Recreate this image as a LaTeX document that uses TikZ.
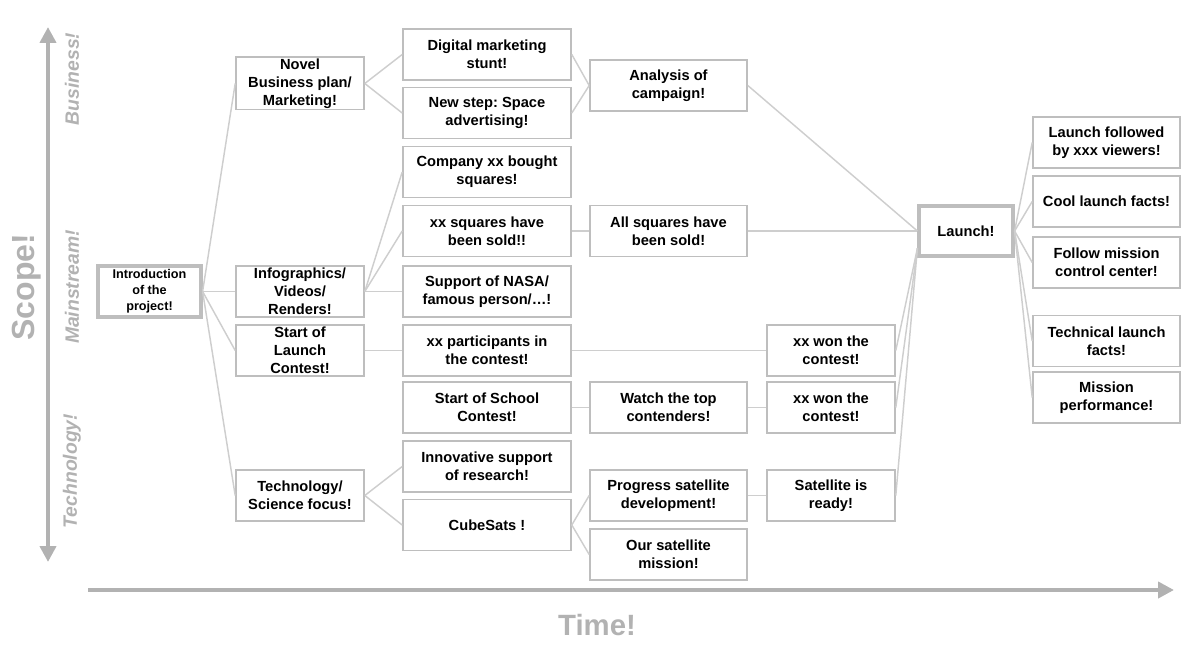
\documentclass[tikz,border=0pt]{standalone}
\usepackage{fontspec}
\setmainfont{Liberation Sans}
\usetikzlibrary{arrows.meta}
\frenchspacing

\definecolor{boxgray}{RGB}{190,190,190}
\definecolor{linkgray}{RGB}{206,206,206}
\definecolor{axisgray}{RGB}{178,178,178}

\tikzset{every picture/.style={line width=0.75pt}}
\tikzset{
  card/.style={draw=boxgray, line width=1.2pt, fill=white, align=center, inner sep=1pt,
    font=\bfseries\fontsize{11}{13.5}\selectfont},
  keycard/.style={card, line width=2.4pt},
  colA/.style={card, minimum width=96pt, minimum height=38.25pt},
  colB/.style={card, minimum width=126pt, minimum height=38pt},
  colC/.style={card, minimum width=117.75pt, minimum height=38pt},
  colD/.style={card, minimum width=96pt, minimum height=38pt},
  colE/.style={card, minimum width=110.25pt, minimum height=38pt},
  link/.style={draw=linkgray, line width=1.1pt},
  axis/.style={draw=axisgray, line width=3pt},
  axistip/.style={-{Triangle[length=12pt,width=12pt]}},
  scopelbl/.style={text=axisgray, rotate=90, font=\bfseries\itshape\fontsize{14.5}{16}\selectfont},
  biglbl/.style={text=axisgray, font=\bfseries\fontsize{22}{24}\selectfont},
}

\begin{document}
\begin{tikzpicture}[x=0.75pt,y=0.75pt,yscale=-1,xscale=1]
\useasboundingbox (0,0) rectangle (1200,649);

%Axes
\coordinate (scopeLo) at (48,562);
\coordinate (scopeHi) at (48,27);
\coordinate (timeLo) at (88,590);
\coordinate (timeHi) at (1174,590);
\draw [axis, {Triangle[length=12pt,width=12pt]}-{Triangle[length=12pt,width=12pt]}] (scopeLo) -- (scopeHi) ;
\draw [axis, axistip] (timeLo) -- (timeHi) ;

% Axis labels
\node [biglbl, rotate=90, font=\bfseries\fontsize{24}{26}\selectfont] (lScope) at (27,287) {Scope!};
\node [biglbl] (lTime) at (597,625) {Time!};
\node [scopelbl] (lBusiness) at (72,79) {Business!};
\node [scopelbl] (lMainstream) at (72,287) {Mainstream!};
\node [scopelbl] (lTechnology) at (72,471) {Technology!};

% Start
\node [keycard, minimum width=77.25pt, minimum height=38.25pt,
  font=\bfseries\fontsize{9.5}{12}\selectfont] (nIntro) at (149.5,291.5) {Introduction\\ of the\\ project!};

% First column
\node [colA] (nNovel) at (300,83.5) {Novel\\ Business plan/\\ Marketing!};
\node [colA] (nInfo) at (300,291.5) {Infographics/\\ Videos/\\ Renders!};
\node [colA] (nLaunchCont) at (300,350.5) {Start of\\ Launch\\ Contest!};
\node [colA] (nTech) at (300,495.5) {Technology/\\ Science focus!};

% Second column
\node [colB] (nStunt) at (487,54.5) {Digital marketing\\ stunt!};
\node [colB] (nSpace) at (487,113) {New step: Space\\ advertising!};
\node [colB] (nCompany) at (487,172) {Company xx bought\\ squares!};
\node [colB] (nSquares) at (487,231) {xx squares have\\ been sold!!};
\node [colB] (nNasa) at (487,291.5) {Support of NASA/\\ famous person/\ldots!};
\node [colB] (nParticip) at (487,350.5) {xx participants in\\ the contest!};
\node [colB] (nSchool) at (487,407.5) {Start of School\\ Contest!};
\node [colB] (nResearch) at (487,466.5) {Innovative support\\ of research!};
\node [colB] (nCubeSat) at (487,525) {CubeSats !};

% Third column
\node [colC] (nAnalysis) at (668.5,85.5) {Analysis of\\ campaign!};
\node [colC] (nAllSold) at (668.5,231) {All squares have\\ been sold!};
\node [colC] (nWatch) at (668.5,407.5) {Watch the top\\ contenders!};
\node [colC] (nProgress) at (668.5,495.5) {Progress satellite\\ development!};
\node [colC] (nMission) at (668.5,554.5) {Our satellite\\ mission!};

% Fourth column
\node [colD] (nWonA) at (831,350.5) {xx won the\\ contest!};
\node [colD] (nWonB) at (831,407.5) {xx won the\\ contest!};
\node [colD] (nReady) at (831,495.5) {Satellite is\\ ready!};

% Launch
\node [keycard, minimum width=70.5pt, minimum height=37.5pt] (nLaunch) at (966,231) {Launch!};
\coordinate (cLaunchIn) at ([yshift=-7pt]nLaunch.south west);

% After launch
\node [colE] (nViewers) at (1106.5,142.5) {Launch followed\\ by xxx viewers!};
\node [colE] (nCool) at (1106.5,201.5) {Cool launch facts!};
\node [colE] (nControl) at (1106.5,262.5) {Follow mission\\ control center!};
\node [colE] (nTechFacts) at (1106.5,341) {Technical launch\\ facts!};
\node [colE] (nPerform) at (1106.5,397.5) {Mission\\ performance!};

%Connectors
\draw [link] (nIntro.east) -- (nNovel.west) ;
\draw [link] (nIntro.east) -- (nInfo.west) ;
\draw [link] (nIntro.east) -- (nLaunchCont.west) ;
\draw [link] (nIntro.east) -- (nTech.west) ;

\draw [link] (nNovel.east) -- (nStunt.west) ;
\draw [link] (nNovel.east) -- (nSpace.west) ;
\draw [link] (nStunt.east) -- (nAnalysis.west) ;
\draw [link] (nSpace.east) -- (nAnalysis.west) ;
\draw [link] (nAnalysis.east) -- (nLaunch.west) ;

\draw [link] (nInfo.east) -- (nCompany.west) ;
\draw [link] (nInfo.east) -- (nSquares.west) ;
\draw [link] (nInfo.east) -- (nNasa.west) ;
\draw [link] (nSquares.east) -- (nAllSold.west) ;
\draw [link] (nAllSold.east) -- (nLaunch.west) ;

\draw [link] (nLaunchCont.east) -- (nParticip.west) ;
\draw [link] (nParticip.east) -- (nWonA.west) ;
\draw [link] (nWonA.east) -- (cLaunchIn) ;

\draw [link] (nSchool.east) -- (nWatch.west) ;
\draw [link] (nWatch.east) -- (nWonB.west) ;
\draw [link] (nWonB.east) -- (cLaunchIn) ;

\draw [link] (nTech.east) -- (nResearch.west) ;
\draw [link] (nTech.east) -- (nCubeSat.west) ;
\draw [link] (nCubeSat.east) -- (nProgress.west) ;
\draw [link] (nCubeSat.east) -- (nMission.west) ;
\draw [link] (nProgress.east) -- (nReady.west) ;
\draw [link] (nReady.east) -- (cLaunchIn) ;

\foreach \n in {nViewers,nCool,nControl,nTechFacts,nPerform}
  \draw [link] (nLaunch.east) -- (\n.west) ;

\end{tikzpicture}
\end{document}
